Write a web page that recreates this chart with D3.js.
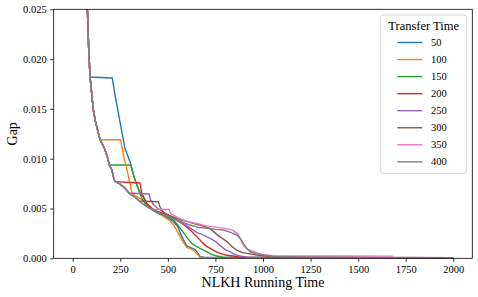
<!DOCTYPE html>
<html><head><meta charset="utf-8">
<script src="https://cdn.jsdelivr.net/npm/d3@7"></script>
<style>body{margin:0;background:#fff}svg{display:block}svg text{font-family:"Liberation Serif","Times New Roman",serif !important;fill:#000}</style>
</head><body>
<svg id="chart" width="478" height="297"></svg>
<script>
// Shared pre-transfer curve [time, gap]
const shared = [[70,0.034],[77,0.025],[84,0.021],[91,0.0182],[100,0.0165],[108,0.0149],[120,0.0137],[135,0.01255],[144,0.0119],[155,0.0115],[170,0.01087],[185,0.0100],[192,0.00937],[205,0.0089],[215,0.0081],[222,0.0077],[245,0.0075],[266,0.0072],[285,0.0068],[296,0.00655],[315,0.0063],[335,0.0060],[350,0.00575],[354,0.00568],[380,0.0053],[406,0.0050],[422,0.0049],[450,0.0046],[476,0.00435],[510,0.0041],[546,0.00385],[580,0.0036],[616,0.00334],[660,0.0031],[704,0.00301],[750,0.0029],[791,0.00284],[830,0.0026],[862,0.00234],[880,0.0020],[897,0.0015],[915,0.0010],[932,0.00066],[965,0.00045],[1002,0.00033],[1050,0.0002],[1100,0.00015],[1200,0.0001],[1500,0.00007],[2000,0.00005]];

const seriesNames = ["50","100","150","200","250","300","350","400"];
const colors = ["#1f77b4","#ff7f0e","#2ca02c","#d62728","#9467bd","#8c564b","#e377c2","#7f7f7f"];
// time at which each series leaves the shared curve
const branchAt = [91,144,192,222,296,350,422,2001];

const tail50  = [[208,0.0181],[223,0.0163],[231,0.0155],[257,0.0128],[275,0.0110],[301,0.0097],[318,0.0084],[327,0.0079],[345,0.0070],[362,0.0063],[371,0.0062],[390,0.0055],[415,0.0049],[440,0.0046],[494,0.0041],[529,0.0037],[555,0.0031],[564,0.0026],[581,0.0019],[599,0.00125],[616,0.0011],[640,0.0009],[651,0.0007],[669,0.00016],[690,0.0001],[1000,0.00005],[2000,0.00003]];
const tail100 = [[252,0.0119],[257,0.0113],[270,0.0100],[284,0.0090],[301,0.0075],[310,0.0066],[327,0.0063],[354,0.0060],[380,0.0056],[406,0.0052],[440,0.0047],[476,0.0042],[510,0.0038],[529,0.0034],[555,0.0025],[581,0.0016],[600,0.0011],[634,0.00083],[655,0.0004],[669,0.0001],[700,0.00005],[2000,0.00003]];
const tail150 = [[306,0.00937],[318,0.0085],[332,0.0076],[345,0.0069],[362,0.0061],[380,0.0055],[400,0.0051],[432,0.0047],[480,0.0043],[529,0.00385],[550,0.0034],[573,0.0028],[600,0.0021],[625,0.0015],[650,0.0012],[669,0.001],[690,0.0008],[704,0.00066],[730,0.0004],[757,0.00023],[790,0.0001],[2000,0.00003]];
const tail200 = [[354,0.00756],[362,0.0066],[375,0.0060],[389,0.0055],[410,0.0051],[432,0.0048],[460,0.0046],[494,0.0044],[530,0.0040],[564,0.0036],[590,0.0033],[620,0.0028],[651,0.0022],[680,0.0016],[704,0.0012],[722,0.001],[750,0.0007],[774,0.0005],[810,0.0003],[844,0.00023],[880,0.0001],[2000,0.00004]];
const tail250 = [[401,0.00646],[410,0.0058],[425,0.0054],[441,0.0051],[470,0.0047],[494,0.0044],[540,0.0039],[581,0.0035],[620,0.0030],[651,0.0026],[680,0.0024],[722,0.0020],[750,0.0017],[774,0.0013],[800,0.0009],[827,0.00066],[850,0.0004],[879,0.00023],[920,0.0001],[2000,0.00005]];
const tail300 = [[450,0.00568],[458,0.0052],[470,0.0048],[485,0.0045],[520,0.0042],[560,0.0039],[599,0.0037],[650,0.0034],[690,0.0032],[722,0.0030],[739,0.0027],[770,0.0022],[809,0.0017],[835,0.0012],[862,0.00083],[890,0.0006],[914,0.0005],[975,0.0003],[1050,0.00015],[1200,0.0001],[2000,0.00005]];
const tail350 = [[506,0.0049],[515,0.0045],[530,0.0043],[560,0.0040],[600,0.0037],[650,0.0035],[704,0.00325],[760,0.0031],[800,0.0030],[844,0.0028],[870,0.0024],[885,0.0018],[900,0.0012],[920,0.0009],[949,0.0007],[975,0.0005],[1002,0.00035],[1050,0.00025],[1683,0.00022]];
const tail400 = [];
const tails = [tail50,tail100,tail150,tail200,tail250,tail300,tail350,tail400];

const xTicks = [0,250,500,750,1000,1250,1500,1750,2000];
const yTicks = [0,0.005,0.010,0.015,0.020,0.025];

const svg = d3.select("#chart");
const L = 53.7, R = 472.3, T = 9.3, B = 258.3;
const x = d3.scaleLinear().domain([-100,2100]).range([L,R]);
const y = d3.scaleLinear().domain([0,0.025]).range([B,T]);

svg.append("defs").append("clipPath").attr("id","clip")
  .append("rect").attr("x",L).attr("y",T).attr("width",R-L).attr("height",B-T);

const line = d3.line().x(d=>x(d[0])).y(d=>y(d[1]));
const g = svg.append("g").attr("clip-path","url(#clip)");
seriesNames.forEach((n,i)=>{
  const pts = shared.filter(p=>p[0]<=branchAt[i]).concat(tails[i]);
  g.append("path").attr("d",line(pts)).attr("fill","none")
    .attr("stroke",colors[i]).attr("stroke-width",1.4).attr("stroke-linejoin","round");
});

const font = "Liberation Serif";
const xAxis = svg.append("g").attr("transform",`translate(0,${B})`)
  .call(d3.axisBottom(x).tickValues(xTicks).tickSize(3.5).tickPadding(3.5).tickFormat(d3.format("d")));
const yAxis = svg.append("g").attr("transform",`translate(${L},0)`)
  .call(d3.axisLeft(y).tickValues(yTicks).tickSize(3.5).tickPadding(3.5).tickFormat(d3.format(".3f")));
[xAxis,yAxis].forEach(a=>{
  a.attr("font-family",font).attr("font-size",10.5);
  a.select(".domain").remove();
  a.selectAll("text").style("font-family",font).attr("fill","#000");
  a.selectAll("line").attr("stroke","#000").attr("stroke-width",0.8);
});
svg.append("rect").attr("x",L).attr("y",T).attr("width",R-L).attr("height",B-T)
  .attr("fill","none").attr("stroke","#000").attr("stroke-width",0.8);

svg.append("text").attr("x",(L+R)/2).attr("y",287).attr("text-anchor","middle")
  .style("font-family",font).attr("font-size",14).text("NLKH Running Time");
svg.append("text").attr("transform",`translate(17,${(T+B)/2}) rotate(-90)`).attr("text-anchor","middle")
  .style("font-family",font).attr("font-size",14).text("Gap");

// legend
const lg = svg.append("g");
lg.append("rect").attr("x",380.7).attr("y",15).attr("width",86).attr("height",158.3).attr("rx",2.5)
  .attr("fill","#fff").attr("fill-opacity",0.8).attr("stroke","#ccc").attr("stroke-width",0.8);
lg.append("text").attr("x",423.7).attr("y",30).attr("text-anchor","middle")
  .style("font-family",font).attr("font-size",12.5).text("Transfer Time");
seriesNames.forEach((n,i)=>{
  const yy = 42.5 + i*17.05;
  lg.append("line").attr("x1",397.3).attr("x2",422.3).attr("y1",yy).attr("y2",yy)
    .attr("stroke",colors[i]).attr("stroke-width",1.4);
  lg.append("text").attr("x",431).attr("y",yy+3.6).style("font-family",font).attr("font-size",10.5).text(n);
});
</script>
</body></html>
